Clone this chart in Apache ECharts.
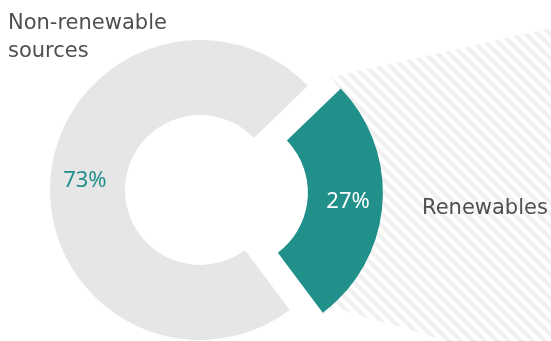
<!DOCTYPE html>
<html>
<head>
<meta charset="utf-8">
<title>Energy sources</title>
<script src="https://cdn.jsdelivr.net/npm/echarts@6/dist/echarts.min.js"></script>
<style>
    html, body { margin: 0; padding: 0; background: #fff; }
    #container { width: 551px; height: 341px; }
</style>
</head>
<body>
<div id="container"></div>
<script>
/*数据*/
var categories = ['Renewables', 'Non-renewable sources'];
var shares = [27, 73];
var labelNames = ['Renewables', 'Non-renewable\nsources'];

var TEAL = '#21908b';
var GREY = '#e6e6e6';
var TEXT = '#4f4f4f';

/*斜线填充*/
function stripes() {
    var n = 12;
    var c = document.createElement('canvas');
    c.width = n;
    c.height = n;
    var ctx = c.getContext('2d');
    ctx.strokeStyle = '#f1f1f1';
    ctx.lineWidth = 4.2;
    for (var k = -1; k <= 1; k++) {
        ctx.beginPath();
        ctx.moveTo(-2, -2 + k * n);
        ctx.lineTo(n + 2, n + 2 + k * n);
        ctx.stroke();
    }
    return c;
}

var pieData = categories.map(function (name, i) {
    return {
        name: name,
        value: shares[i],
        selected: i === 0,
        itemStyle: { color: i === 0 ? TEAL : GREY },
        label: { color: i === 0 ? '#ffffff' : TEAL }
    };
});

var dom = document.getElementById('container');
var myChart = echarts.init(dom);

var option = {
    animation: false,
    graphic: [
        {
            type: 'polygon',
            z: 0,
            silent: true,
            shape: {
                points: [[331, 77], [551, 28], [551, 341], [445, 341], [427, 335], [400, 327],
                    [367, 318], [335, 307], [320, 316], [335, 280], [355, 194], [345, 120], [340, 90]]
            },
            style: { fill: { image: stripes(), repeat: 'repeat' } }
        },
        {
            type: 'text',
            z: 10,
            left: 8,
            top: 10,
            style: {
                text: labelNames[1],
                fill: TEXT,
                font: '21px "DejaVu Sans"',
                lineHeight: 28
            }
        },
        {
            type: 'text',
            z: 10,
            left: 422,
            top: 198,
            style: {
                text: labelNames[0],
                fill: TEXT,
                font: '21px "DejaVu Sans"'
            }
        }
    ],
    series: [
        {
            type: 'pie',
            center: [200, 190],
            radius: [75, 150],
            startAngle: 44,
            selectedMode: 'single',
            selectedOffset: 33,
            avoidLabelOverlap: false,
            emphasis: { disabled: true },
            label: {
                show: true,
                position: 'inside',
                formatter: '{c}%',
                fontFamily: '"Liberation Sans Narrow", "Noto Sans"',
                fontSize: 22
            },
            labelLine: { show: false },
            data: pieData
        }
    ]
};

myChart.setOption(option);
</script>
</body>
</html>
